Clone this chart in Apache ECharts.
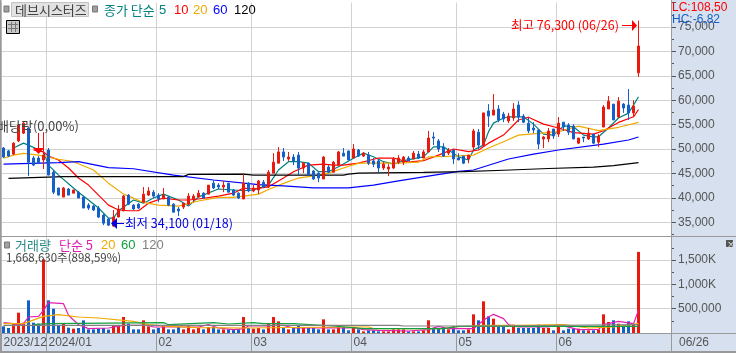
<!DOCTYPE html>
<html lang="ko">
<head>
<meta charset="UTF-8">
<script src="https://cdn.jsdelivr.net/npm/echarts@6/dist/echarts.min.js"></script>
<title>데브시스터즈</title>
<style>html,body{margin:0;padding:0;background:#fff}#main{width:736px;height:353px}</style>
</head>
<body>
<div id="main"></div>
<script>
var monthIndex = [0, 9, 31, 50, 70, 91, 111];
var monthLabels = ['2023/12', '2024/01', '02', '03', '04', '05', '06'];

var opens = [50200,49600,48950,51650,53250,54300,48150,48150,47750,49800,45250,42000,40150,41800,40950,41150,40150,38500,38300,37900,36450,35650,34200,36050,37300,40550,38500,38700,39100,40550,41150,40550,39750,40150,38700,37700,38100,38700,39750,40150,40950,40750,43000,42600,42200,43000,41600,40950,39750,43000,
  41400,41600,43200,42200,45050,47100,49400,47950,48350,48750,46100,47100,45500,45050,43850,46300,45250,46700,49150,49600,48150,49800,48550,48750,47550,47550,46100,45900,46100,47300,47300,48150,47950,48950,48150,49400,52450,51650,50400,49150,
  49800,48150,48550,47950,50400,53450,50800,57800,56950,58200,57150,55750,56350,59000,56750,55300,54300,53900,52050,52050,54100,53050,55500,54900,54700,51200,52450,52050,53050,51400,54500,58200,59200,56550,59200,59000,57400,65600];
var closes = [48350,48550,51200,54900,55300,47300,46700,47100,48750,44650,41150,40550,42000,40550,41600,39950,37900,37900,37500,36050,34800,34400,36050,37700,40350,38700,37700,37900,40750,41400,40350,39750,40550,38500,37050,37300,38900,40350,40350,40950,39950,42600,42000,42200,42600,41150,40550,39950,43000,41400,
  42000,43450,42200,45250,47300,49400,48350,48350,47550,46100,47100,44650,43850,44050,48350,45250,47300,49400,48550,47750,50000,48550,49150,47100,46900,46100,46900,46300,47950,48150,48350,47550,49150,48150,49400,52250,52250,50000,48550,49800,
  47950,47750,47100,48750,53700,50800,57400,56750,58000,55950,56150,56750,58200,56550,55500,53700,53900,51000,52450,53700,52650,55300,54500,53450,52050,52250,52250,53250,51200,52650,58600,59800,55950,59800,58400,57400,58800,71100];
var lows = [48150,48350,48750,51400,53050,44450,46500,46900,45900,44650,40750,40550,40150,40550,40950,39950,37900,37500,37300,35850,34400,34200,34100,36050,37300,38500,37500,37700,39100,40350,39950,39100,39750,38300,37050,36250,37700,38500,39100,40150,39950,40750,41800,41800,41150,41150,40350,39750,39750,41150,
  41150,40750,42000,42000,45050,47100,47550,47550,46700,44650,45050,44650,43650,43200,43850,45050,45250,46700,48550,47750,48150,48350,48350,46700,46300,45250,45700,44450,45900,46900,46700,47550,47950,47950,48150,49400,50800,49400,48350,48750,
  46900,47750,46900,47100,49800,50000,50600,54500,56950,55500,55500,55300,55750,55500,55300,53250,53250,50000,50200,51400,52050,52450,53700,52850,52050,51000,51400,51850,51000,50400,54500,58200,55950,56350,57400,55950,56550,64750];
var highs = [50400,49800,51400,55100,55500,54500,48550,48550,53450,50200,45700,42000,42200,42000,41600,41400,40350,38900,38500,38300,36650,35850,37500,38500,40550,40750,38700,38900,42200,42200,41600,40950,42000,40350,38900,38100,38900,40950,40750,41600,41150,42600,43650,43000,43450,43000,41800,41150,44850,43200,
  42600,43650,43650,45700,49150,50400,50200,49400,48950,49400,47300,47100,45700,45250,48550,46700,47550,49600,50200,49600,51000,50000,49400,49400,48150,47950,47300,46900,48350,48750,48550,48550,49600,49600,49800,53700,53450,52050,51200,50200,
  49800,49150,48550,48750,54100,54100,57400,59200,61250,59000,57600,57400,59400,59800,57150,56350,55500,53900,52650,54300,54100,56550,55500,55300,55100,52250,52450,54300,53050,53050,59000,60850,59200,60650,59400,62300,60000,76300];

var ma5 = [[2,50200],[4,51200],[5,50800],[8,49400],[9,46700],[11,44650],[14,42000],[15,41150],[17,39550],[19,37900],[21,35850],[22,35850],[23,37350],[26,39550],[28,38900],[30,39950],[32,40750],[35,39550],[37,38300],[39,40200],[43,41800],[46,41600],[48,41450],[50,41600],[53,42600],[55,45700],[57,47400],[59,47400],[61,47100],[63,45350],[65,45350],[67,46350],[70,48100],[72,49150],[74,48400],[76,47400],[78,46900],[80,47600],[84,48400],[86,50450],[88,50450],[91,48400],[93,47750],[94,49800],[96,50800],[97,53550],[98,55300],[100,56350],[101,56600],[104,56600],[106,55100],[108,53050],[110,52850],[112,54750],[114,54550],[116,52850],[118,52500],[119,52500],[121,54300],[123,56350],[125,57350],[126,59000],[127,60700]];
var ma10 = [[6,49800],[8,49400],[9,48550],[11,47750],[13,46100],[15,44050],[17,42600],[19,40550],[21,38500],[23,37500],[25,37350],[27,37350],[29,38900],[32,39950],[35,39550],[37,39550],[39,39750],[43,40350],[46,40950],[48,42000],[50,41800],[53,42250],[56,44050],[58,45350],[61,46700],[64,46900],[66,46700],[68,46700],[71,47100],[75,48150],[78,48150],[81,47300],[84,47600],[87,48750],[90,50000],[93,49450],[95,49800],[97,51200],[100,52850],[103,55950],[105,56500],[108,55100],[111,54300],[114,53350],[118,53050],[120,53750],[123,55450],[126,56600],[127,58100]];
var ma20 = [[0,48100],[2,48750],[4,49100],[7,48750],[11,47900],[14,47400],[18,45700],[21,43000],[24,40750],[25,40350],[28,39050],[31,38500],[35,38300],[39,39350],[43,40100],[46,40100],[48,40350],[51,40750],[53,41700],[56,42950],[59,44050],[63,44650],[65,45050],[68,46100],[71,47100],[75,47100],[79,47100],[83,47300],[85,48400],[90,48550],[94,48750],[97,50200],[100,51500],[103,52850],[111,53550],[115,54700],[119,53750],[123,54450],[127,55450]];
var ma60 = [[0,46900],[11,47200],[15,47400],[21,46200],[26,45950],[34,44650],[42,43650],[51,42700],[56,42450],[62,42050],[69,42050],[74,42600],[79,43450],[84,44300],[91,45400],[94,45700],[101,47950],[106,48950],[111,49800],[120,51000],[125,51850],[127,52450]];
var ma120 = [[1,44000],[12,44350],[36,44350],[37,44800],[48,44850],[50,44650],[68,44650],[69,44850],[71,45050],[84,45200],[92,45350],[100,45650],[109,46000],[118,46300],[122,46600],[127,47200]];

// volume in thousands of shares
var volumes = [137,103,192,418,212,672,212,192,1516,672,500,158,192,110,89,103,260,75,75,89,103,69,144,158,329,192,75,75,260,137,75,103,144,75,75,123,75,158,75,103,75,123,123,75,75,75,75,75,329,103,
  89,103,75,192,329,240,103,75,123,158,110,103,103,75,281,75,75,158,123,55,123,75,34,55,55,34,34,34,75,75,75,34,34,34,55,261,89,89,123,75,144,55,55,75,384,261,652,343,
  295,123,123,75,171,103,103,103,103,171,103,103,55,171,55,89,89,89,55,55,55,75,384,226,261,192,144,240,192,1668.63];
var volMa5 = [[0,213],[2,192],[3,158],[4,192],[5,329],[7,343],[8,466],[9,624],[12,604],[13,364],[15,171],[17,89],[21,103],[24,158],[29,158],[30,123],[39,123],[41,171],[43,103],[46,69],[48,89],[49,144],[53,144],[54,158],[56,158],[58,103],[63,103],[65,110],[69,103],[70,116],[72,69],[75,55],[81,41],[85,69],[87,137],[89,89],[94,89],[96,261],[97,329],[98,384],[100,295],[101,171],[103,123],[109,123],[111,171],[115,69],[119,75],[120,171],[123,240],[126,192],[127,466]];
var volMa20 = [[0,192],[4,192],[8,343],[11,377],[15,329],[19,309],[26,240],[29,171],[33,137],[39,110],[48,103],[68,123],[73,123],[74,89],[88,89],[90,123],[96,158],[103,158],[112,171],[117,103],[122,123],[127,192]];
var volMa60 = [[6,171],[9,192],[32,213],[33,171],[42,213],[45,185],[50,213],[52,192],[58,192],[66,144],[72,89],[88,89],[91,137],[127,137]];
var volMa120 = [[0,158],[79,158],[80,144],[97,144],[127,171]];

var RED = '#e8190f', BLUE = '#1560c8', GRID = '#d2d2d2', EDGE = '#999999', STRIP = '#d6e0ee', INK = '#555555';
var KR = '"Noto Sans CJK KR", sans-serif';
var NUM = '"Liberation Sans", sans-serif';

var categories = [];
for (var i = 0; i < 134; i++) categories.push(i);
var candleData = opens.map(function (o, i) { return [o, closes[i], lows[i], highs[i]]; });
var volumeData = volumes.map(function (v, i) {
  return { value: v, itemStyle: { color: closes[i] >= opens[i] ? RED : BLUE } };
});
function isMonth(index) { return monthIndex.indexOf(index) >= 0; }

function line(name, data, color, xi, yi) {
  return { name: name, type: 'line', data: data, xAxisIndex: xi, yAxisIndex: yi, showSymbol: false, symbol: 'none',
    silent: true, lineStyle: { color: color, width: 1.2 }, z: 3 };
}
function text(x, y, str, color, size, family) {
  return { type: 'text', x: x, y: y, z: 50, silent: true,
    style: { text: str, fill: color, font: (size || 12) + 'px ' + (family || KR), textVerticalAlign: 'middle' } };
}
function rect(x, y, w, h, fill, stroke, z) {
  return { type: 'rect', shape: { x: x, y: y, width: w, height: h }, z: z === undefined ? 50 : z, silent: true,
    style: { fill: fill, stroke: stroke || null, lineWidth: 1 } };
}
function rule(x1, y1, x2, y2, color, w) {
  return { type: 'line', shape: { x1: x1, y1: y1, x2: x2, y2: y2 }, z: 45, silent: true,
    style: { stroke: color, lineWidth: w || 1 } };
}
function tri(points, color) {
  return { type: 'polygon', shape: { points: points }, z: 46, silent: true, style: { fill: color } };
}

var chart = echarts.init(document.getElementById('main'));
chart.setOption({
  animation: false,
  backgroundColor: '#fff',
  grid: [
    { left: 1, width: 670, top: 2.6, height: 244 },
    { left: 1, width: 670, top: 235.8, height: 97.2 }
  ],
  xAxis: [0, 1].map(function (g) {
    return {
      type: 'category', gridIndex: g, data: categories, boundaryGap: true,
      axisLine: { show: g === 1, lineStyle: { color: EDGE } },
      axisTick: { show: g === 1, interval: function (i) { return isMonth(i); }, length: 18, lineStyle: { color: EDGE } },
      axisLabel: {
        show: g === 1, margin: 4, align: 'left', color: INK, fontFamily: NUM, fontSize: 12, showMinLabel: true,
        interval: function (i) { return isMonth(i); },
        formatter: function (v, i) { var m = monthIndex.indexOf(i); return m >= 0 ? monthLabels[m] : ''; }
      },
      splitLine: { show: true, interval: function (i) { return isMonth(i); }, lineStyle: { color: GRID } }
    };
  }),
  yAxis: [
    {
      type: 'value', gridIndex: 0, position: 'right', min: 30000, max: 80000, interval: 5000, scale: true,
      axisLine: { show: true, lineStyle: { color: EDGE } },
      axisTick: { show: true, length: 5, lineStyle: { color: INK } },
      minorTick: { show: true, splitNumber: 2, length: 3, lineStyle: { color: INK } },
      axisLabel: { showMinLabel: false, showMaxLabel: false, margin: 7, color: INK, fontFamily: NUM, fontSize: 12,
        formatter: function (v) { return v.toLocaleString('en-US'); } },
      splitLine: { show: true, showMinLine: false, showMaxLine: false, lineStyle: { color: GRID } }
    },
    {
      type: 'value', gridIndex: 1, position: 'right', min: 0, max: 2000, interval: 500,
      axisLine: { show: true, lineStyle: { color: EDGE } },
      axisTick: { show: true, length: 5, lineStyle: { color: INK } },
      minorTick: { show: true, splitNumber: 2, length: 3, lineStyle: { color: INK } },
      axisLabel: { showMinLabel: false, showMaxLabel: false, margin: 7, color: INK, fontFamily: NUM, fontSize: 12,
        formatter: function (v) { return v === 500 ? '500,000' : v.toLocaleString('en-US') + 'K'; } },
      splitLine: { show: true, showMinLine: false, showMaxLine: false, lineStyle: { color: GRID } }
    }
  ],
  series: [
    { name: '데브시스터즈', type: 'candlestick', data: candleData, xAxisIndex: 0, yAxisIndex: 0, barWidth: 3, silent: true, z: 4,
      itemStyle: { color: RED, color0: BLUE, borderColor: RED, borderColor0: BLUE, borderWidth: 1 } },
    line('5', ma5, '#008080', 0, 0),
    line('10', ma10, '#ff0000', 0, 0),
    line('20', ma20, '#f0aa00', 0, 0),
    line('60', ma60, '#0000ff', 0, 0),
    line('120', ma120, '#000000', 0, 0),
    { name: '거래량', type: 'bar', data: volumeData, xAxisIndex: 1, yAxisIndex: 1, barWidth: 3, silent: true, z: 2 },
    line('거래량 5', volMa5, '#e020b0', 1, 1),
    line('거래량 20', volMa20, '#f0aa00', 1, 1),
    line('거래량 60', volMa60, '#10a040', 1, 1),
    line('거래량 120', volMa120, '#808080', 1, 1)
  ],
  graphic: { elements: [
    rect(671, 0, 65, 353, STRIP, null, -1),
    rect(0, 334, 671, 18, STRIP, null, -1),
    rect(672, 244, 8, 4, STRIP, null, 40),
    rule(0.5, 0, 0.5, 352, EDGE, 2),
    rule(0, 236.5, 736, 236.5, EDGE),
    rule(0, 333.5, 736, 333.5, EDGE),
    rule(0, 352, 736, 352, EDGE, 2),
    rule(671.5, 0, 671.5, 352, EDGE),

    rect(4, 6, 5, 6, '#a0a0a0', '#777'),
    rect(11.5, 2.5, 77, 14, '#e2e2e2', '#c2c2c2', 44),
    text(15, 10, '데브시스터즈', '#444', 13),
    rect(92.5, 6, 5, 6, '#a0a0a0', '#777'),
    text(104, 10, '종가 단순', '#008080', 13),
    text(159, 10, '5', '#008080', 13, NUM),
    text(174, 10, '10', '#ff0000', 13, NUM),
    text(193, 10, '20', '#f0aa00', 13, NUM),
    text(213, 10, '60', '#0000ff', 13, NUM),
    text(234, 10, '120', '#000', 13, NUM),
    rect(6.5, 20.5, 13, 13, '#c8c8c8', '#000', 44),
    rule(8, 24.5, 18, 24.5, '#777'), rule(8, 28.5, 18, 28.5, '#777'), rule(11.5, 22, 11.5, 32, '#777'), rule(15.5, 22, 15.5, 32, '#777'),

    text(672, 8, 'LC:108,50', '#ff0000', 12, NUM),
    text(672, 20, 'HC:-6,82', '#1560c8', 12, NUM),

    text(511, 25, '최고 76,300 (06/26)', '#ff0000', 12.5),
    rule(622, 25.5, 632, 25.5, '#ff0000'),
    tri([[632, 20], [637, 25.5], [632, 31]], '#ff0000'),

    text(125, 223, '최저 34,100 (01/18)', '#0000e0', 12.5),
    rule(117, 223.5, 124, 223.5, '#0000e0'),
    tri([[117, 218], [111, 223.5], [117, 229]], '#0000e0'),

    text(-3, 126, '배당락(0,00%)', '#444', 13),
    rule(38.5, 133, 38.5, 148, '#ff0000'),
    tri([[33, 148], [44, 148], [38.5, 154]], '#ff0000'),

    rect(4.5, 242, 5, 6, '#a0a0a0', '#777'),
    text(15, 245, '거래량', '#2a8a8a', 13),
    text(59, 245, '단순 5', '#e020b0', 13),
    text(101, 245, '20', '#f0aa00', 13, NUM),
    text(121, 245, '60', '#10a040', 13, NUM),
    text(142, 245, '120', '#808080', 13, NUM),
    text(6, 258, '1,668,630주(898,59%)', '#444', 11.5),

    rect(726, 240, 7, 7, '#555', null),
    text(727, 243.5, '×', '#fff', 8),
    text(679, 343, '06/26', INK, 12, NUM)
  ] }
});
</script>
</body>
</html>
